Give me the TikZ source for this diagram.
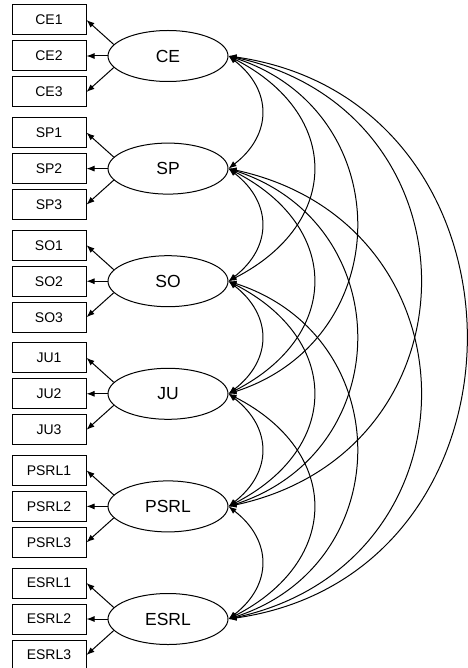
\documentclass[tikz,border=0pt]{standalone}
\usepackage{fontspec}
\setmainfont{Liberation Sans}
\usetikzlibrary{positioning, shapes.geometric, arrows.meta}

\begin{document}
\begin{tikzpicture}[x=1pt, y=1pt,
  >={Latex[length=8pt,width=6pt]},
  item/.style={draw, line width=1pt, minimum width=74pt, minimum height=30pt,
    inner sep=0pt, font=\fontsize{14}{16}\selectfont},
  factor/.style={draw, ellipse, line width=1pt, minimum width=120pt,
    minimum height=51pt, inner sep=0pt, font=\fontsize{17.5}{20}\selectfont},
  load/.style={->, line width=1pt},
  cov/.style={<->, line width=1pt}]
%\draw[help lines, step=10] (0,0) grid (467,-668);
\useasboundingbox (0,0) rectangle (467,-668);

\pgfmathsetmacro\xFactor{168};
\pgfmathsetmacro\yTop{-56};
\pgfmathsetmacro\gap{112.6};

% factors
\node [factor] (CE)   at (\xFactor, \yTop) {CE};
\node [factor] (SP)   at (\xFactor, \yTop-\gap) {SP};
\node [factor] (SO)   at (\xFactor, \yTop-2*\gap) {SO};
\node [factor] (JU)   at (\xFactor, \yTop-3*\gap) {JU};
\node [factor] (PSRL) at (\xFactor, \yTop-4*\gap) {PSRL};
\node [factor] (ESRL) at (\xFactor, \yTop-5*\gap) {ESRL};

% items
\node [item, left=21pt of CE] (CE2) {CE2};
\node [item, above=5pt of CE2] (CE1) {CE1};
\node [item, below=5pt of CE2] (CE3) {CE3};

\node [item, left=21pt of SP] (SP2) {SP2};
\node [item, above=5pt of SP2] (SP1) {SP1};
\node [item, below=5pt of SP2] (SP3) {SP3};

\node [item, left=21pt of SO] (SO2) {SO2};
\node [item, above=5pt of SO2] (SO1) {SO1};
\node [item, below=5pt of SO2] (SO3) {SO3};

\node [item, left=21pt of JU] (JU2) {JU2};
\node [item, above=5pt of JU2] (JU1) {JU1};
\node [item, below=5pt of JU2] (JU3) {JU3};

\node [item, left=21pt of PSRL] (PSRL2) {PSRL2};
\node [item, above=5pt of PSRL2] (PSRL1) {PSRL1};
\node [item, below=5pt of PSRL2] (PSRL3) {PSRL3};

\node [item, left=21pt of ESRL] (ESRL2) {ESRL2};
\node [item, above=5pt of ESRL2] (ESRL1) {ESRL1};
\node [item, below=5pt of ESRL2] (ESRL3) {ESRL3};

% loadings
\draw [load] (CE.168) -- (CE1.east);
\draw [load] (CE.west) -- (CE2.east);
\draw [load] (CE.192) -- (CE3.east);

\draw [load] (SP.168) -- (SP1.east);
\draw [load] (SP.west) -- (SP2.east);
\draw [load] (SP.192) -- (SP3.east);

\draw [load] (SO.168) -- (SO1.east);
\draw [load] (SO.west) -- (SO2.east);
\draw [load] (SO.192) -- (SO3.east);

\draw [load] (JU.168) -- (JU1.east);
\draw [load] (JU.west) -- (JU2.east);
\draw [load] (JU.192) -- (JU3.east);

\draw [load] (PSRL.168) -- (PSRL1.east);
\draw [load] (PSRL.west) -- (PSRL2.east);
\draw [load] (PSRL.192) -- (PSRL3.east);

\draw [load] (ESRL.168) -- (ESRL1.east);
\draw [load] (ESRL.west) -- (ESRL2.east);
\draw [load] (ESRL.192) -- (ESRL3.east);

% covariances, neighbours
\draw [cov] (CE.east) .. controls +(44,-34) and +(44,34) .. (SP.east);
\draw [cov] (SP.east) .. controls +(44,-34) and +(44,34) .. (SO.east);
\draw [cov] (SO.east) .. controls +(44,-34) and +(44,34) .. (JU.east);
\draw [cov] (JU.east) .. controls +(44,-34) and +(44,34) .. (PSRL.east);
\draw [cov] (PSRL.east) .. controls +(44,-34) and +(44,34) .. (ESRL.east);

% covariances, two apart
\draw [cov] (CE.east) .. controls +(113,-58) and +(113,58) .. (SO.east);
\draw [cov] (SP.east) .. controls +(113,-58) and +(113,58) .. (JU.east);
\draw [cov] (SO.east) .. controls +(113,-58) and +(113,58) .. (PSRL.east);
\draw [cov] (JU.east) .. controls +(113,-58) and +(113,58) .. (ESRL.east);

% covariances, three apart
\draw [cov] (CE.east) .. controls +(170,-55) and +(170,55) .. (JU.east);
\draw [cov] (SP.east) .. controls +(170,-55) and +(170,55) .. (PSRL.east);
\draw [cov] (SO.east) .. controls +(170,-55) and +(170,55) .. (ESRL.east);

% covariances, far apart
\draw [cov] (CE.east) .. controls +(255,-55) and +(255,55) .. (PSRL.east);
\draw [cov] (SP.east) .. controls +(255,-55) and +(255,55) .. (ESRL.east);
\draw [cov] (CE.east) .. controls +(316,-45) and +(316,45) .. (ESRL.east);

\end{tikzpicture}
\end{document}
